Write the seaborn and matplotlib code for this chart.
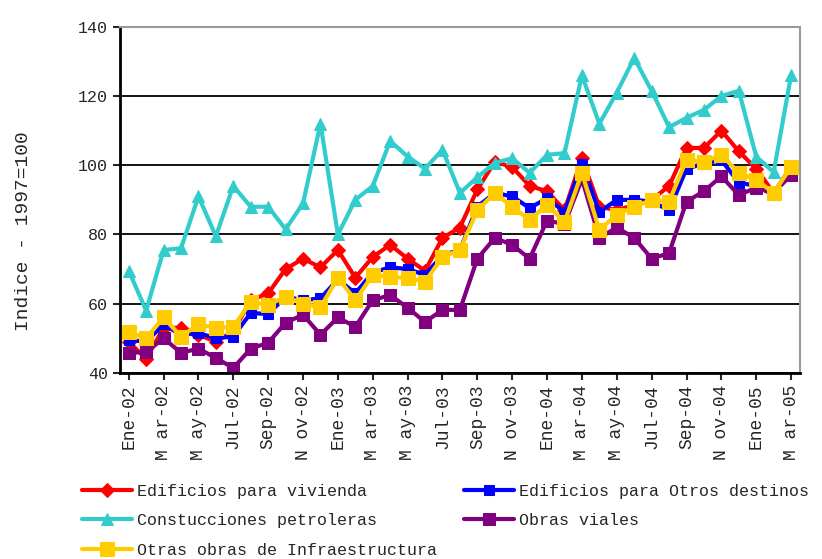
import pandas as pd
import matplotlib
matplotlib.use("Agg")
import matplotlib.pyplot as plt
import seaborn as sns

# Monthly index, Ene-02 .. Mar-05
months = ["Ene-02", "Feb-02", "Mar-02", "Abr-02", "May-02", "Jun-02", "Jul-02", "Ago-02",
          "Sep-02", "Oct-02", "Nov-02", "Dic-02", "Ene-03", "Feb-03", "Mar-03", "Abr-03",
          "May-03", "Jun-03", "Jul-03", "Ago-03", "Sep-03", "Oct-03", "Nov-03", "Dic-03",
          "Ene-04", "Feb-04", "Mar-04", "Abr-04", "May-04", "Jun-04", "Jul-04", "Ago-04",
          "Sep-04", "Oct-04", "Nov-04", "Dic-04", "Ene-05", "Feb-05", "Mar-05"]
tick_labels = ["Ene-02", "M ar-02", "M ay-02", "Jul-02", "Sep-02", "N ov-02", "Ene-03",
               "M ar-03", "M ay-03", "Jul-03", "Sep-03", "N ov-03", "Ene-04", "M ar-04",
               "M ay-04", "Jul-04", "Sep-04", "N ov-04", "Ene-05", "M ar-05"]

vivienda = [49, 44, 53, 53, 51, 49, 52, 61, 63, 70, 73, 70.5, 75.5, 67.5, 73.5, 77, 73,
            69.5, 79, 82, 93, 101, 99.5, 94, 92.5, 87, 102, 88, 87, 88.5, 90, 94,
            105, 105, 110, 104, 99, 92, 99.5]
otros_destinos = [49.5, 49, 54, 51, 51.5, 50, 50.5, 57.3, 57, 62, 61, 61.5, 67, 63, 69,
                  70.5, 70, 68.3, 74, 75.5, 88, 92, 91, 87.6, 90.5, 86.5, 100.5, 86.5, 90,
                  90, 89.5, 87, 99, 100.5, 101.5, 95, 94, 91.4, 99.5]
petroleras = [69.5, 58, 75.5, 76, 91, 79.5, 94, 88, 88, 81.5, 89, 112, 80, 90, 94, 107,
              102.5, 99, 104.5, 92, 96.5, 100.7, 102, 97.8, 103, 103.5, 126, 112, 121,
              131, 121.5, 111, 113.7, 116, 120, 121.5, 102.5, 98, 126]
viales = [45.8, 46, 50, 45.8, 47, 44.3, 41.4, 47, 48.7, 54.5, 56.8, 51, 56, 53.3, 61,
          62.5, 58.8, 54.7, 58.2, 58.2, 73, 79, 77, 73, 84, 83, 96, 79, 82, 79, 73,
          74.6, 89.5, 92.5, 96.8, 91.4, 93.5, 92, 97.2]
infraestructura = [51.8, 50, 56, 50.5, 54, 53, 53.3, 60.5, 59.6, 62, 60, 59, 67.5, 61,
                   68.3, 67.7, 67.4, 66.3, 73.5, 75.5, 87, 92, 88, 84.2, 88.6, 83.6, 97.8,
                   81.3, 85.7, 88, 90, 89.5, 101.6, 101, 103, 97.8, 95.8, 92, 99.5]

names = ["Edificios para vivienda", "Edificios para Otros destinos",
         "Constucciones petroleras", "Obras viales", "Otras obras de Infraestructura"]
series = [vivienda, otros_destinos, petroleras, viales, infraestructura]
colors = ["#ff0000", "#0000ff", "#33cccc", "#800080", "#ffcc00"]
markers = ["D", "s", "^", "s", "s"]
msizes = [7, 7, 9, 9, 10]

rows = []
for name, vals in zip(names, series):
    for i, v in enumerate(vals):
        rows.append({"pos": i, "mes": months[i], "serie": name, "valor": v})
df = pd.DataFrame(rows)

sns.set_style("white")
plt.rcParams["font.family"] = ["Liberation Mono", "DejaVu Sans Mono"]

fig = plt.figure(figsize=(8.22, 5.59), dpi=100)
ax = fig.add_axes([0.146, 0.333, 0.827, 0.619])

for name, c, m, ms in zip(names, colors, markers, msizes):
    sub = df[df["serie"] == name]
    sns.lineplot(data=sub, x="pos", y="valor", ax=ax, color=c, marker=m,
                 markersize=ms, markeredgecolor=c, linewidth=3, label=name)

ax.set_xlim(-0.5, len(months) - 0.5)
ax.set_ylim(40, 140)
ax.set_yticks(range(40, 141, 20))
ax.yaxis.grid(True, color="black", linewidth=1.3)
ax.set_axisbelow(True)
ax.set_xticks(range(0, len(months), 2))
ax.set_xticklabels(tick_labels, rotation=90, fontsize=13)
ax.tick_params(axis="y", labelsize=12, length=5, width=1.5, left=True, direction="out")
ax.tick_params(axis="x", length=5, width=1.5, bottom=True, direction="out")
ax.set_xlabel("")
ax.set_ylabel("Indice - 1997=100", fontsize=14)
ax.yaxis.set_label_coords(-0.129, 0.41)

for s in ["left", "bottom"]:
    ax.spines[s].set_color("black")
    ax.spines[s].set_linewidth(2)
for s in ["top", "right"]:
    ax.spines[s].set_color("#999999")
    ax.spines[s].set_linewidth(1.5)

handles, labels = ax.get_legend_handles_labels()
ax.get_legend().remove()
order = [0, 2, 4, 1, 3]
fig.legend([handles[i] for i in order], [labels[i] for i in order], ncol=2,
           loc="upper left", bbox_to_anchor=(0.1, 0.135), frameon=False,
           fontsize=12, handlelength=3.0, handletextpad=0.3, columnspacing=1.6,
           labelspacing=0.87, borderaxespad=0, borderpad=0)

fig.savefig("out.png", dpi=100)
